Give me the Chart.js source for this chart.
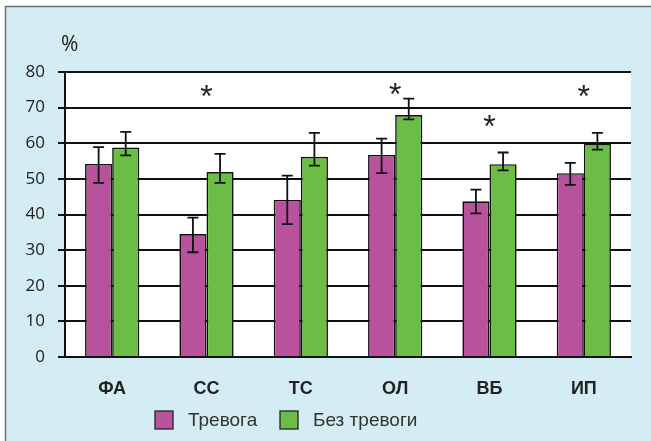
<!DOCTYPE html>
<html>
<head>
<meta charset="utf-8">
<script src="https://cdn.jsdelivr.net/npm/chart.js@4"></script>
<style>
  html, body { margin: 0; padding: 0; background: #fff; }
  #wrap { position: absolute; left: 0; top: 0; width: 651px; height: 441px; }
</style>
</head>
<body>
<div id="wrap"><canvas id="c"></canvas></div>
<script>
// Categories and series
const categories = ['ФА', 'СС', 'ТС', 'ОЛ', 'ВБ', 'ИП'];
const seriesNames = ['Тревога', 'Без тревоги'];
const anxietyValues = [54.2, 34.5, 44.1, 56.7, 43.7, 51.6];
const noAnxietyValues = [58.8, 51.9, 56.2, 67.9, 54.1, 59.8];
// Error bar bounds (upper / lower)
const anxietyUpper = [58.9, 39.1, 50.9, 61.3, 47.0, 54.5];
const anxietyLower = [48.9, 29.4, 37.3, 51.6, 40.3, 48.3];
const noAnxietyUpper = [63.2, 57.0, 62.9, 72.5, 57.4, 62.9];
const noAnxietyLower = [56.6, 48.9, 53.7, 66.7, 52.4, 58.2];
// Significance markers (value level of the asterisk, null = none)
const significance = [null, 75.4, null, 75.8, 66.8, 75.4];
const yTicks = [0, 10, 20, 30, 40, 50, 60, 70, 80];

const PURPLE = '#b9529c';
const GREEN = '#6cbd45';
const PANEL = '#d4ecf3';

const errorBounds = [
  { upper: anxietyUpper, lower: anxietyLower },
  { upper: noAnxietyUpper, lower: noAnxietyLower }
];

const framePlugin = {
  id: 'frame',
  beforeDraw(chart) {
    const { ctx, width, height, chartArea } = chart;
    ctx.save();
    ctx.fillStyle = '#ffffff';
    ctx.fillRect(0, 0, width, height);
    ctx.fillStyle = PANEL;
    ctx.fillRect(5, 6, width - 5, height - 6);
    ctx.strokeStyle = '#6e6e6e';
    ctx.lineWidth = 1.5;
    ctx.beginPath();
    ctx.moveTo(5.5, height);
    ctx.lineTo(5.5, 6.5);
    ctx.lineTo(width, 6.5);
    ctx.stroke();
    ctx.fillStyle = '#ffffff';
    ctx.fillRect(chartArea.left, chartArea.top, chartArea.right - chartArea.left, chartArea.bottom - chartArea.top);
    ctx.restore();
  }
};

const extrasPlugin = {
  id: 'extras',
  afterDatasetsDraw(chart) {
    const { ctx, scales } = chart;
    const y = scales.y;
    const x = scales.x;
    ctx.save();
    // error bars
    ctx.strokeStyle = '#111';
    ctx.lineWidth = 1.8;
    chart.data.datasets.forEach((ds, di) => {
      const meta = chart.getDatasetMeta(di);
      meta.data.forEach((bar, i) => {
        const cx = bar.x;
        const yt = y.getPixelForValue(errorBounds[di].upper[i]);
        const yb = y.getPixelForValue(errorBounds[di].lower[i]);
        const hw = 5.5;
        ctx.beginPath();
        ctx.moveTo(cx, yt); ctx.lineTo(cx, yb);
        ctx.moveTo(cx - hw, yt); ctx.lineTo(cx + hw, yt);
        ctx.moveTo(cx - hw, yb); ctx.lineTo(cx + hw, yb);
        ctx.stroke();
      });
    });
    // significance asterisks
    ctx.fillStyle = '#222';
    ctx.textAlign = 'center';
    ctx.textBaseline = 'alphabetic';
    const size = 32;
    ctx.font = size + 'px "Liberation Sans", Arial, sans-serif';
    significance.forEach((v, i) => {
      if (v === null) return;
      const cx = x.getPixelForValue(i);
      const cy = y.getPixelForValue(v);
      ctx.fillText('*', cx, cy + 0.57 * size);
    });
    // unit label
    ctx.textAlign = 'left';
    ctx.textBaseline = 'middle';
    ctx.font = '21px "Open Sans", sans-serif';
    ctx.fillText('%', chart.chartArea.left - 4, 45);
    // legend
    const items = [
      { label: chart.data.datasets[0].label, color: PURPLE, x: 155 },
      { label: chart.data.datasets[1].label, color: GREEN, x: 280 }
    ];
    ctx.font = '19px "Liberation Sans", Arial, sans-serif';
    items.forEach(it => {
      ctx.fillStyle = it.color;
      ctx.fillRect(it.x, 411, 18, 18);
      ctx.strokeStyle = '#222';
      ctx.lineWidth = 1.3;
      ctx.strokeRect(it.x, 411, 18, 18);
      ctx.fillStyle = '#333';
      ctx.fillText(it.label, it.x + 33, 421);
    });
    ctx.restore();
  }
};

new Chart(document.getElementById('c'), {
  type: 'bar',
  data: {
    labels: categories,
    datasets: [
      {
        label: seriesNames[0],
        data: anxietyValues,
        backgroundColor: PURPLE,
        borderColor: '#111',
        borderWidth: 1.6,
        borderSkipped: 'bottom'
      },
      {
        label: seriesNames[1],
        data: noAnxietyValues,
        backgroundColor: GREEN,
        borderColor: '#111',
        borderWidth: 1.6,
        borderSkipped: 'bottom'
      }
    ]
  },
  options: {
    responsive: true,
    maintainAspectRatio: false,
    animation: false,
    layout: { padding: { left: 0, right: 20, top: 72, bottom: 0 } },
    datasets: { bar: { categoryPercentage: 0.575, barPercentage: 1.0 } },
    plugins: {
      legend: { display: false },
      tooltip: { enabled: false },
      title: { display: false }
    },
    scales: {
      x: {
        grid: { display: false },
        border: { display: true, color: '#111', width: 2 },
        ticks: {
          padding: 13,
          color: '#222',
          font: { family: '"Liberation Sans", Arial, sans-serif', size: 18, weight: 'bold' }
        },
        afterFit(scale) { scale.height = 84; }
      },
      y: {
        min: 0,
        max: 80,
        afterBuildTicks(scale) { scale.ticks = yTicks.map(v => ({ value: v })); },
        grid: { color: '#111', lineWidth: 2, tickLength: 7, drawTicks: true },
        border: { display: true, color: '#111', width: 2 },
        ticks: {
          padding: 13,
          color: '#222',
          font: { family: '"Open Sans", sans-serif', size: 17 }
        },
        afterFit(scale) { scale.width = 65; }
      }
    }
  },
  plugins: [framePlugin, extrasPlugin]
});
</script>
</body>
</html>
